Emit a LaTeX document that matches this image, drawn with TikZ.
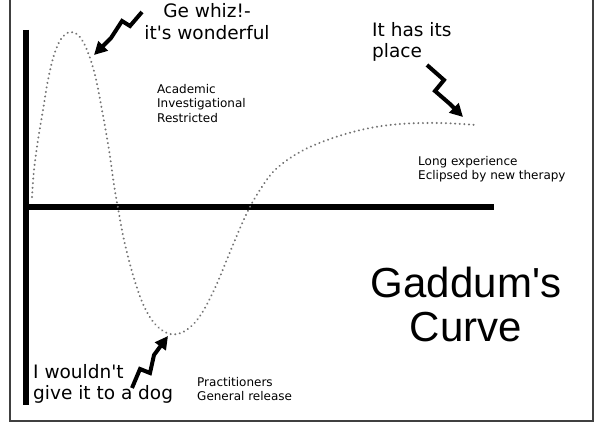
\documentclass[tikz,border=0pt]{standalone}
\usepackage{fontspec}
\setmainfont{DejaVu Sans}[Ligatures=TeXOff]
\newfontfamily\titlefont{Liberation Sans}[Ligatures=TeXOff]
\usetikzlibrary{arrows.meta}
\begin{document}
\begin{tikzpicture}[x=1pt,y=-1pt,
  axisline/.style={line width=6pt,black},
  framebox/.style={line width=1.3pt,black!75},
  curveline/.style={line width=2.2pt,black!55,line cap=round,dash pattern=on 0.01pt off 4.6pt},
  zap/.style={line width=4pt,black,line join=miter,miter limit=3,-{Triangle[length=13pt,width=13pt]}},
  bigtext/.style={font=\fontsize{18.5}{22}\selectfont,align=center,inner sep=0pt},
  lefttext/.style={font=\fontsize{18.5}{21}\selectfont,align=left,inner sep=0pt,anchor=north west},
  smalltext/.style={font=\fontsize{12}{14.5}\selectfont,align=left,inner sep=0pt,anchor=north west},
  titletext/.style={font=\titlefont\fontsize{42}{44}\selectfont,align=center,inner sep=0pt}]
\useasboundingbox (0,0) rectangle (595,428);
\fill[white] (0,0) rectangle (595,428);
% frame (open at top)
\draw[framebox] (10,0) -- (10,421) -- (593,421) -- (593,0);
% axes
\coordinate (ytop) at (26,30);
\coordinate (ybot) at (26,405);
\coordinate (xleft) at (23,207);
\coordinate (xright) at (494,207);
\draw[axisline] (ytop) -- (ybot);
\draw[axisline] (xleft) -- (xright);
% Gaddum's curve
\draw[curveline] plot[smooth,tension=0.6] coordinates {
 (32,197) (34,170) (38,140) (43,110) (48,80) (54,55) (61,39) (70,32) (79,36)
 (87,50) (95,75) (102,110) (109,150) (114,185) (118,208) (124,240) (133,275)
 (143,304) (155,324) (170,334) (185,331) (200,316) (215,288) (230,252)
 (245,217) (258,193) (275,170) (300,152) (330,139) (365,129) (400,124)
 (440,123) (476,125)};
% labels
\node[bigtext] (whiz) at (207,22) {Ge whiz!-\\it's wonderful};
\node[lefttext] (place) at (372,22) {It has its\\place};
\node[lefttext] (dog) at (33,364) {I wouldn't\\give it to a dog};
\node[smalltext] (acad) at (157,84) {Academic\\Investigational\\Restricted};
\node[smalltext] (long) at (418,156) {Long experience\\Eclipsed by new therapy};
\node[smalltext] (pract) at (197,377) {Practitioners\\General release};
\node[titletext] (title) at (466,304) {Gaddum's\\Curve};
% lightning arrows
\coordinate (z1s) at (142,12);
\coordinate (z1e) at (94,55);
\coordinate (z2s) at (427,65);
\coordinate (z2e) at (463,117);
\coordinate (z3s) at (132,388);
\coordinate (z3e) at (168,336);
\draw[zap] (z1s) -- (130,26) -- (122,21) -- (111,38) -- (z1e);
\draw[zap] (z2s) -- (444,80) -- (435,91) -- (450,104) -- (z2e);
\draw[zap] (z3s) -- (140,369) -- (150,373) -- (154,355) -- (z3e);
\end{tikzpicture}
\end{document}
